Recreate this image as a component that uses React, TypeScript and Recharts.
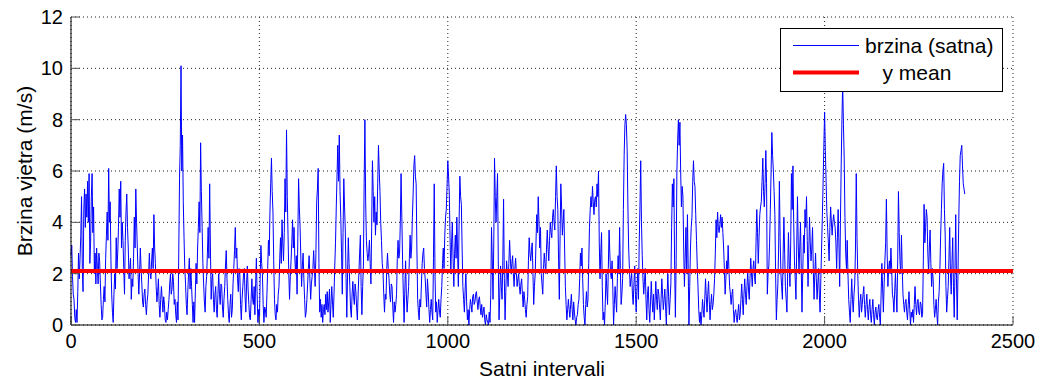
import React from "react";
import { LineChart, Line, XAxis, YAxis, CartesianGrid, Legend } from "recharts";

const FONT = '"Liberation Sans", Arial, Helvetica, sans-serif';

// wind speed: speedA at hours 0,4,8,... ; speedB at hours 2,6,10,...
const SLOT_HOURS = 4;
const speedA: number[] = [
  2.7,1.9,1.0,0.1,0.1,2.8,2.6,5.0,1.3,5.3,
  5.1,5.6,5.9,3.2,5.9,4.6,2.8,3.0,1.6,2.5,
  0.8,0.3,1.5,2.6,4.4,6.1,4.8,1.2,0.1,2.0,
  3.4,2.8,5.3,5.6,4.0,2.2,3.3,5.1,3.0,2.2,
  1.0,1.5,4.2,5.3,3.0,1.2,3.0,1.6,0.7,1.4,
  0.4,1.2,2.8,1.8,3.0,4.3,2.4,0.9,1.8,0.3,
  1.5,0.5,0.8,0.1,0.2,1.0,2.0,1.4,1.7,1.0,
  0.1,0.2,5.7,10.1,7.4,3.4,1.6,0.4,2.0,1.4,
  1.5,0.1,0.1,2.4,3.0,4.8,7.1,3.8,1.6,0.5,
  1.9,3.8,5.5,1.0,2.0,0.5,1.5,0.3,2.0,0.8,
  1.5,0.3,1.5,2.9,1.0,0.1,1.2,0.6,2.2,3.8,
  3.0,1.3,2.0,0.2,1.5,2.2,0.5,2.3,0.8,0.2,
  1.8,0.8,0.4,2.6,0.1,0.0,3.1,2.0,0.1,0.6,
  1.2,3.3,4.4,6.5,4.4,1.0,0.2,0.5,1.5,3.4,
  4.1,2.5,5.7,7.6,3.5,1.0,2.5,4.1,3.8,2.0,
  1.2,5.7,3.8,1.5,2.8,1.0,0.5,1.6,2.7,1.0,
  1.9,2.9,1.5,4.8,6.1,0.5,0.3,0.1,0.8,1.2,
  1.3,0.9,0.1,1.5,0.3,2.3,4.6,7.0,7.4,4.2,
  1.2,5.7,3.7,0.3,3.4,1.5,0.3,1.7,0.8,1.3,
  0.2,2.0,3.5,0.4,2.3,8.0,3.3,2.5,3.3,1.6,
  6.4,4.0,3.5,3.9,7.0,5.2,3.3,2.1,0.5,1.0,
  2.8,1.8,0.9,1.5,0.1,0.5,1.2,3.3,2.8,5.9,
  2.5,0.1,2.5,0.5,1.5,3.5,3.0,5.1,6.6,5.5,
  1.0,0.2,0.7,2.4,3.0,1.8,0.7,1.3,0.1,1.0,
  0.2,5.5,0.5,0.1,1.0,0.3,1.5,3.0,3.5,4.5,
  6.4,5.1,2.0,4.0,1.5,3.5,4.2,1.5,5.8,4.7,
  1.5,0.5,2.0,0.2,0.0,1.0,0.5,1.2,0.9,1.3,
  0.6,1.1,0.4,0.3,0.7,0.0,0.2,0.0,0.1,3.8,
  1.0,6.5,4.0,5.9,0.2,2.3,1.0,4.9,0.2,2.5,
  1.5,3.3,2.0,2.7,1.5,2.6,1.5,2.0,1.2,1.8,
  0.7,1.0,0.3,1.1,3.4,2.5,3.2,0.8,2.0,4.3,
  5.0,3.0,2.0,1.2,2.8,2.0,3.7,2.5,4.0,3.4,
  4.5,3.7,6.2,4.5,1.0,5.5,3.5,4.5,1.5,0.2,
  1.0,0.3,1.2,0.2,0.5,0.0,0.4,1.0,2.8,3.0,
  0.8,0.0,1.3,1.0,3.8,5.0,5.4,4.3,5.0,5.5,
  6.0,1.8,3.6,0.2,0.0,2.0,0.8,3.7,2.0,2.5,
  0.0,1.5,0.5,2.7,3.8,0.8,1.8,6.6,8.2,6.8,
  3.0,1.5,2.0,0.8,2.3,0.5,2.2,3.2,6.4,2.7,
  1.2,2.2,0.2,1.5,0.1,1.7,0.5,0.2,1.7,0.6,
  1.2,0.2,1.8,0.6,1.4,0.0,2.0,0.4,1.6,5.5,
  5.7,0.3,6.0,8.0,7.9,4.6,5.0,1.5,3.8,4.3,
  0.0,3.0,4.2,6.4,5.4,3.3,1.5,0.1,0.0,1.0,
  0.3,1.8,0.5,1.7,0.2,1.2,0.8,1.8,4.1,4.4,
  3.6,4.3,4.2,3.0,1.2,2.5,3.1,1.5,0.8,1.4,
  0.1,0.6,0.1,0.8,0.4,1.6,0.4,1.8,0.8,2.1,
  1.0,2.6,1.5,2.5,1.6,4.5,2.4,4.3,4.8,6.5,
  4.6,6.8,1.2,2.3,4.5,7.5,6.0,4.3,0.2,1.6,
  5.6,2.0,1.0,4.2,1.5,0.5,3.6,1.5,5.9,6.2,
  2.5,1.0,5.0,2.0,4.0,0.5,3.5,4.5,5.0,1.5,
  4.2,2.5,3.8,1.0,2.8,1.0,2.2,0.5,3.0,5.5,
  8.3,5.6,3.8,2.5,4.6,3.5,4.3,3.8,2.2,4.5,
  1.5,6.2,9.4,6.5,2.8,3.3,1.0,0.1,1.8,0.5,
  1.6,5.9,2.0,0.3,1.2,0.8,1.5,0.3,1.2,0.2,
  1.0,0.1,1.0,0.0,0.7,0.2,0.8,0.0,2.4,0.5,
  2.5,4.9,1.5,2.5,3.0,1.2,0.5,2.0,0.5,5.2,
  2.5,3.5,1.2,0.5,1.0,0.2,1.3,0.0,0.3,0.1,
  1.5,0.4,1.0,0.4,0.8,0.4,4.7,3.8,4.2,2.0,
  3.7,1.5,1.8,0.3,1.0,0.0,1.3,3.5,5.5,6.3,
  3.5,0.5,1.5,3.8,1.2,3.4,0.3,4.3,0.2,4.0,
  6.6,7.0,5.5,5.1,
];
const speedB: number[] = [
  3.1,1.2,0.3,0.6,1.3,1.8,3.5,2.2,4.5,3.8,
  4.2,4.0,2.4,5.0,3.6,2.0,1.6,2.2,2.8,1.6,
  0.2,1.0,0.9,3.5,3.3,4.0,2.5,0.5,1.2,1.4,
  2.2,3.8,4.2,3.0,3.3,1.2,4.4,3.8,1.8,2.6,
  1.8,2.6,3.0,4.0,2.0,2.0,2.2,0.9,1.2,0.8,
  0.9,2.0,2.0,2.5,2.2,3.0,1.5,1.3,0.8,1.0,
  1.0,1.1,0.2,0.5,0.6,1.6,1.2,2.0,0.8,0.4,
  0.9,2.8,7.0,6.0,4.8,2.2,0.8,1.3,2.6,2.2,
  0.8,0.9,1.3,1.6,3.8,3.6,5.2,2.4,0.9,1.5,
  2.8,2.6,3.0,1.8,1.0,1.2,0.6,1.2,1.2,1.6,
  0.7,1.0,2.3,1.8,0.4,0.8,0.3,1.6,2.9,2.6,
  1.8,2.2,0.8,1.0,2.0,1.1,1.6,1.4,0.3,1.0,
  1.0,1.5,1.6,1.2,0.6,1.8,2.4,0.8,0.7,0.3,
  2.2,2.7,5.5,5.2,2.5,0.4,0.8,1.2,2.6,2.4,
  3.2,3.6,4.4,5.0,2.0,1.9,3.2,3.0,2.6,2.7,
  3.4,4.6,2.6,2.3,1.8,0.3,1.0,2.2,1.8,1.6,
  2.2,2.2,2.8,5.3,2.4,1.0,0.8,0.6,0.4,0.6,
  0.5,1.4,0.8,0.9,1.2,3.2,5.8,5.6,5.2,2.8,
  3.6,4.6,1.8,2.0,2.4,0.6,1.2,1.1,1.6,0.7,
  1.2,2.8,1.5,1.5,5.5,4.8,2.8,2.8,2.4,3.8,
  5.2,5.0,4.4,5.5,6.0,4.0,2.4,1.2,1.2,2.2,
  2.2,1.2,1.6,0.7,0.9,0.8,2.6,2.6,4.0,4.2,
  1.2,1.4,1.2,1.0,2.6,2.6,4.2,6.2,5.8,3.0,
  0.5,1.0,1.6,2.8,2.2,1.2,1.8,0.6,0.6,0.5,
  2.6,2.0,0.9,0.6,0.5,1.0,2.4,2.2,4.2,5.4,
  5.8,3.4,3.2,2.6,2.8,2.6,2.8,4.0,5.0,3.0,
  1.0,1.4,0.9,0.6,0.6,0.8,1.1,0.8,1.2,0.9,
  1.0,0.7,0.8,0.5,0.2,0.4,0.1,0.5,1.2,2.6,
  3.2,5.0,5.0,2.5,1.2,1.5,2.5,1.8,1.3,2.0,
  2.4,2.6,2.4,2.0,2.2,2.0,1.8,1.5,1.6,1.2,
  1.3,0.6,0.8,2.5,2.8,2.9,2.0,1.5,3.2,3.6,
  4.0,3.8,1.6,2.2,2.4,3.0,3.0,3.3,3.6,4.2,
  4.0,5.0,5.0,2.5,3.5,4.6,4.0,3.0,0.8,0.6,
  0.6,0.8,0.6,0.9,0.2,0.3,0.8,1.8,2.3,1.8,
  0.3,0.8,0.7,2.4,4.5,4.6,4.8,4.9,4.6,5.0,
  3.2,2.8,1.5,0.5,0.9,1.4,2.2,2.8,1.8,1.4,
  0.8,1.0,1.8,2.0,2.2,1.2,4.5,7.8,7.8,4.6,
  2.2,1.8,1.2,1.6,1.2,1.4,1.0,4.6,4.0,1.8,
  1.7,1.0,1.2,0.6,0.9,1.0,1.2,0.9,1.0,1.4,
  0.7,1.0,1.2,1.0,0.7,1.2,1.1,1.0,3.8,4.6,
  2.3,2.5,7.2,7.0,6.0,5.4,3.0,2.6,2.0,2.2,
  1.5,3.8,5.6,5.6,4.3,2.3,0.6,0.5,0.4,0.6,
  1.0,1.1,1.2,0.9,0.8,0.6,1.2,2.8,3.4,3.8,
  3.9,3.8,3.6,2.2,1.8,2.0,2.2,1.2,1.2,0.6,
  0.5,0.3,0.5,0.2,1.0,1.0,1.2,1.2,1.5,1.4,
  1.8,2.0,2.2,1.9,3.2,3.6,3.4,4.6,5.6,5.2,
  5.5,5.5,2.0,3.2,6.0,6.6,5.2,2.0,1.0,3.0,
  3.4,1.5,2.8,2.8,1.0,2.0,2.5,3.2,4.5,4.0,
  1.8,3.0,3.2,3.0,2.2,2.0,2.8,3.8,3.3,2.8,
  3.2,3.0,2.2,2.0,1.8,1.6,1.2,1.8,4.2,7.0,
  6.8,4.4,3.2,3.8,4.0,4.0,4.0,3.2,3.4,3.2,
  4.0,8.0,7.8,4.2,2.2,2.0,0.5,1.0,1.0,1.2,
  3.0,3.4,1.0,0.9,0.5,1.2,0.8,0.8,0.6,0.7,
  0.4,0.6,0.4,0.5,0.3,0.6,0.3,1.2,1.4,1.6,
  3.2,2.8,2.2,2.0,2.2,1.0,1.3,1.2,2.5,3.6,
  2.0,2.2,0.8,0.9,0.5,0.8,0.6,0.5,0.6,0.8,
  0.8,0.9,0.5,0.9,0.3,2.5,3.2,4.5,2.8,3.0,
  2.4,2.2,0.8,0.6,0.4,0.9,2.2,4.5,6.0,4.5,
  1.5,1.0,2.6,2.0,2.4,1.5,2.2,1.8,2.0,5.6,
  6.8,6.2,5.3,
];

const meanValue = 2.1;
const meanSpan = [0, 2500];
const xTicks = [0, 500, 1000, 1500, 2000, 2500];
const yTicks = [0, 2, 4, 6, 8, 10, 12];
const seriesName = "brzina (satna)";
const meanName = "   y mean";
const xLabel = "Satni intervali";
const yLabel = "Brzina vjetra (m/s)";

const speedData = speedA.flatMap((v, i) => {
  const rows = [{ h: i * SLOT_HOURS, v }];
  if (i < speedB.length) rows.push({ h: i * SLOT_HOURS + SLOT_HOURS / 2, v: speedB[i] });
  return rows;
});
const meanData = meanSpan.map((h) => ({ h, m: meanValue }));
const legendOrder = ["v", "m"];

function LegendBox(props: any) {
  const items = [...(props.payload || [])].sort(
    (a: any, b: any) => legendOrder.indexOf(a.dataKey) - legendOrder.indexOf(b.dataKey)
  );
  return (
    <div
      style={{
        width: 223,
        height: 64,
        boxSizing: "border-box",
        border: "1px solid #000",
        background: "#fff",
        fontFamily: FONT,
        fontSize: 21,
        color: "#000",
        paddingTop: 3,
      }}
    >
      {items.map((it: any, idx: number) => (
        <div key={idx} style={{ display: "flex", alignItems: "center", height: 27 }}>
          <svg width={84} height={27} style={{ flex: "none", display: "block" }}>
            <line
              x1={12}
              x2={78}
              y1={13.5}
              y2={13.5}
              stroke={it.color}
              strokeWidth={(it.payload && it.payload.strokeWidth) || (it.dataKey === "v" ? 1 : 4)}
            />
          </svg>
          <span style={{ whiteSpace: "pre", lineHeight: "27px" }}>{it.value}</span>
        </div>
      ))}
    </div>
  );
}

const tickStyle = { fontSize: 20, fill: "#000", fontFamily: FONT };

export default function App() {
  return (
    <div style={{ position: "absolute", left: 0, top: 0, width: 1043, height: 385, background: "#fff" }}>
      <LineChart width={1043} height={385} margin={{ top: 17, right: 30, bottom: 0, left: 0 }}>
        <CartesianGrid stroke="#222" strokeDasharray="1 3" />
        <XAxis
          dataKey="h"
          type="number"
          domain={[0, 2500]}
          ticks={xTicks}
          height={60}
          tick={tickStyle}
          tickSize={-9}
          tickMargin={18}
          tickLine={{ stroke: "#555" }}
          axisLine={{ stroke: "#000" }}
          label={(p: any) => {
            const vb = p.viewBox;
            return (
              <text x={vb.x + vb.width / 2} y={376} textAnchor="middle" fontFamily={FONT} fontSize={21} fill="#000">
                {xLabel}
              </text>
            );
          }}
        />
        <XAxis
          xAxisId="top"
          orientation="top"
          dataKey="h"
          type="number"
          domain={[0, 2500]}
          ticks={xTicks}
          height={0}
          tick={false}
          tickSize={-9}
          tickLine={{ stroke: "#555" }}
          axisLine={{ stroke: "#000" }}
        />
        <YAxis
          domain={[0, 12]}
          ticks={yTicks}
          width={71}
          tick={tickStyle}
          tickSize={-9}
          tickMargin={17}
          tickLine={{ stroke: "#555" }}
          axisLine={{ stroke: "#000" }}
          label={(p: any) => {
            const vb = p.viewBox;
            const cx = 32;
            const cy = vb.y + vb.height / 2;
            return (
              <text
                x={cx}
                y={cy}
                transform={`rotate(-90, ${cx}, ${cy})`}
                textAnchor="middle"
                fontFamily={FONT}
                fontSize={21}
                fill="#000"
              >
                {yLabel}
              </text>
            );
          }}
        />
        <YAxis
          yAxisId="right"
          orientation="right"
          domain={[0, 12]}
          ticks={yTicks}
          width={0}
          tick={false}
          tickSize={-9}
          tickLine={{ stroke: "#555" }}
          axisLine={{ stroke: "#000" }}
        />
        <Line
          data={speedData}
          dataKey="v"
          name={seriesName}
          stroke="#0000ff"
          strokeWidth={1}
          dot={false}
          activeDot={false}
          isAnimationActive={false}
        />
        <Line
          data={meanData}
          dataKey="m"
          name={meanName}
          stroke="#ff0000"
          strokeWidth={4}
          dot={false}
          activeDot={false}
          isAnimationActive={false}
        />
        <Legend
          layout="vertical"
          align="center"
          verticalAlign="middle"
          wrapperStyle={{ left: 780, top: 28, width: 223, height: 64 }}
          content={(p: any) => <LegendBox {...p} />}
        />
      </LineChart>
    </div>
  );
}
